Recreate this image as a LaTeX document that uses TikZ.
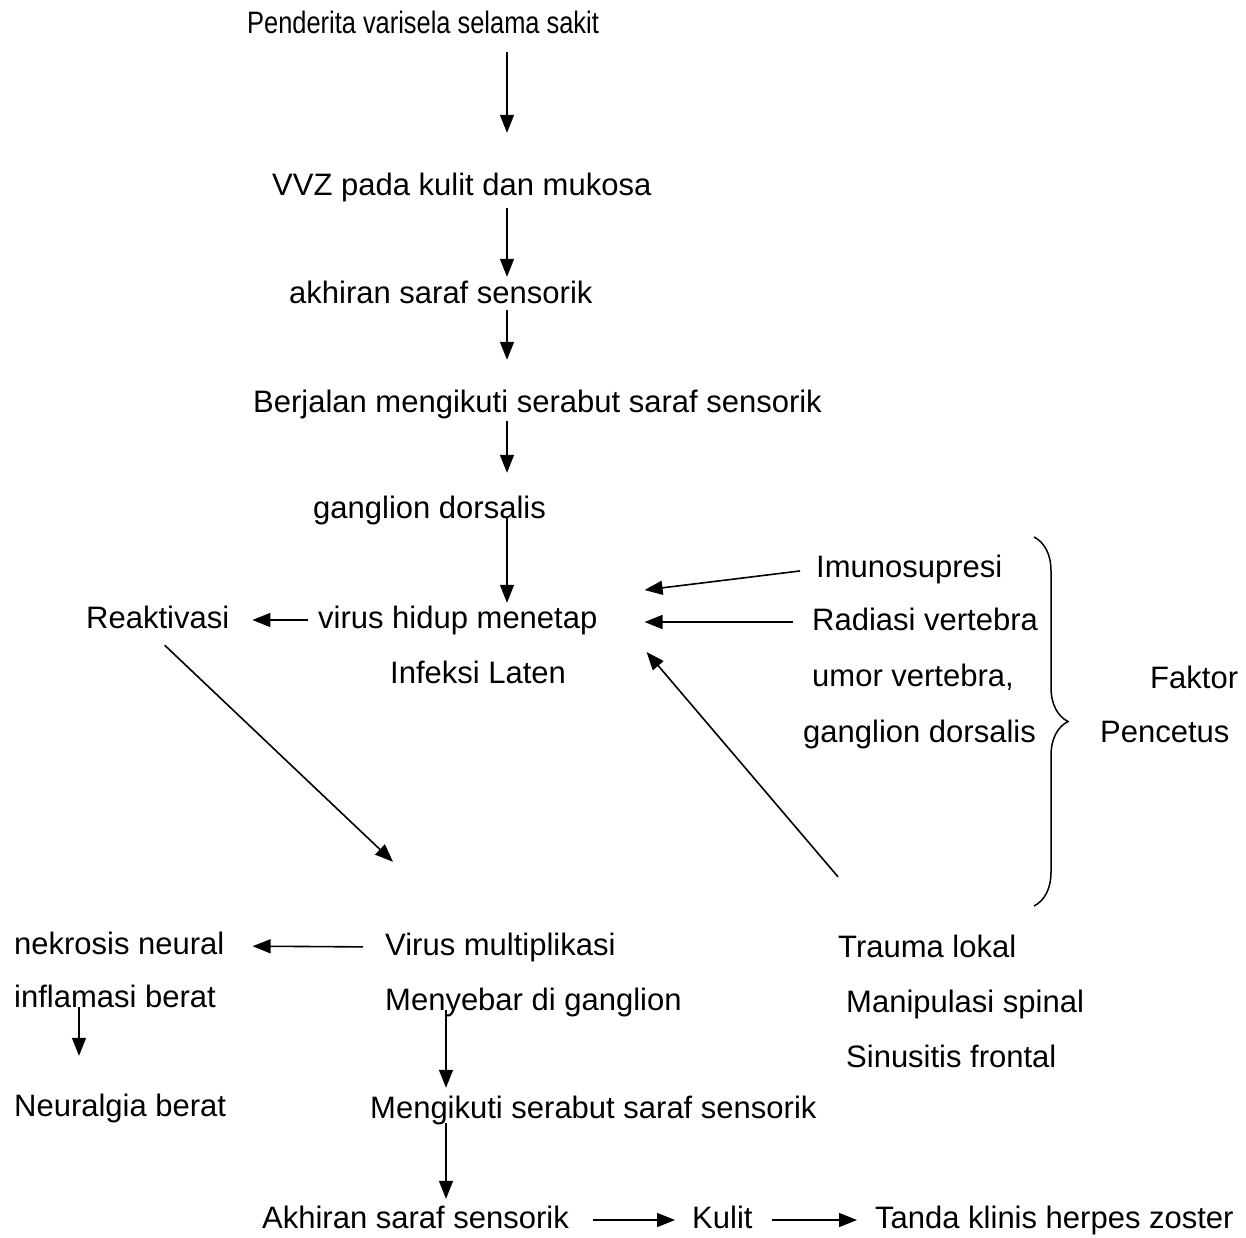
\documentclass[tikz,border=0pt]{standalone}
\usepackage{fontspec}
\setmainfont{Liberation Sans}
\usetikzlibrary{arrows.meta,decorations.pathreplacing}

\tikzset{
  lbl/.style={anchor=base west, inner sep=0pt, text height=23pt, text depth=7pt,
              font=\fontsize{31}{37}\selectfont},
  arr/.style={line width=1.6pt, -{Triangle[length=18pt,width=14pt]}},
  kurung/.style={line width=1.5pt, decorate, decoration={brace, amplitude=34pt}},
}

\begin{document}
\begin{tikzpicture}[x=1pt,y=-1pt]
        \useasboundingbox (0,0) rectangle (1246,1237);

        % Kolom panah
        \coordinate (col)  at (507,0);
        \coordinate (col2) at (446,0);
        \coordinate (col3) at (79,0);

        % Alur utama
        \node[lbl, xscale=0.82] (pend) at (247,33) {Penderita varisela selama sakit};
        \node[lbl] (vvz)  at (272,195) {VVZ pada kulit dan mukosa};
        \node[lbl] (akh)  at (289,303) {akhiran saraf sensorik};
        \node[lbl] (berj) at (253,412) {Berjalan mengikuti serabut saraf sensorik};
        \node[lbl] (gd)   at (313,518) {ganglion dorsalis};
        \node[lbl] (vir)  at (318,628) {virus hidup menetap};
        \node[lbl] (lat)  at (390,683) {Infeksi Laten};
        \node[lbl] (reak) at (86,628)  {Reaktivasi};

        % Faktor pencetus
        \node[lbl] (imun) at (816,577) {Imunosupresi};
        \node[lbl] (rad)  at (812,630) {Radiasi vertebra};
        \node[lbl] (umor) at (812,686) {umor vertebra,};
        \node[lbl] (gd2)  at (803,742) {ganglion dorsalis};
        \node[lbl] (fak)  at (1150,688) {Faktor};
        \node[lbl] (pen)  at (1100,742) {Pencetus};
        \node[lbl] (trau) at (838,957)  {Trauma lokal};
        \node[lbl] (mani) at (846,1012) {Manipulasi spinal};
        \node[lbl] (sinu) at (846,1067) {Sinusitis frontal};

        % Bagian bawah
        \node[lbl] (vmul) at (385,955)  {Virus multiplikasi};
        \node[lbl] (meny) at (385,1010) {Menyebar di ganglion};
        \node[lbl] (nekr) at (14,954)   {nekrosis neural};
        \node[lbl] (infl) at (14,1007)  {inflamasi berat};
        \node[lbl] (neur) at (14,1116)  {Neuralgia berat};
        \node[lbl] (meng) at (370,1118) {Mengikuti serabut saraf sensorik};
        \node[lbl] (akh2) at (262,1228) {Akhiran saraf sensorik};
        \node[lbl] (kul)  at (692,1228) {Kulit};
        \node[lbl] (tanda) at (875,1228) {Tanda klinis herpes zoster};

        % Ujung panah masuk
        \coordinate (in1) at ([shift={(47pt,30pt)}]vir.east);
        \coordinate (in2) at ([xshift=47pt]vir.east);
        \coordinate (in3) at ([shift={(49pt,-32pt)}]vir.east);

        % Panah vertikal
        \draw[arr, shorten <=12pt, shorten >=39pt] (pend.south -| col) -- (vvz.north -| col);
        \draw[arr, shorten <=6pt, shorten >=3pt] (vvz.south -| col) -- (akh.north -| col);
        \draw[arr, shorten >=29pt] (akh.south -| col) -- (berj.north -| col);
        \draw[arr, shorten <=2pt, shorten >=22pt] (berj.south -| col) -- (gd.north -| col);
        \draw[arr, shorten >=2pt] (gd.base -| col) -- (vir.north -| col);
        \draw[arr, shorten >=37pt] (infl.base -| col3) -- (neur.north -| col3);
        \draw[arr, shorten >=7pt] (meny.base -| col2) -- (meng.north -| col2);
        \draw[arr, shorten <=5pt, shorten >=6pt] (meng.base -| col2) -- (akh2.north -| col2);

        % Panah horizontal
        \draw[arr, shorten <=10pt, shorten >=23pt] (vir.west) -- (reak.east);
        \draw[arr, shorten <=22pt, shorten >=28pt] (vmul.west) -- (nekr.east);
        \draw[arr, shorten <=24pt, shorten >=17pt] (akh2.east) -- (kul.west);
        \draw[arr, shorten <=19pt, shorten >=18pt] (kul.east) -- (tanda.west);
        \draw[arr, shorten <=16pt] (imun.west) -- (in1);
        \draw[arr, shorten <=19pt] (rad.west) -- (rad.west -| in2);

        % Panah miring
        \draw[arr] ([shift={(7pt,-10pt)}]reak.south) -- ([shift={(8pt,70pt)}]vmul.north west);
        \draw[arr] ([yshift=57pt]trau.north west) -- (in3);

        % Kurung kurawal
        \draw[kurung] (1034,537) -- (1034,906);
\end{tikzpicture}
\end{document}
